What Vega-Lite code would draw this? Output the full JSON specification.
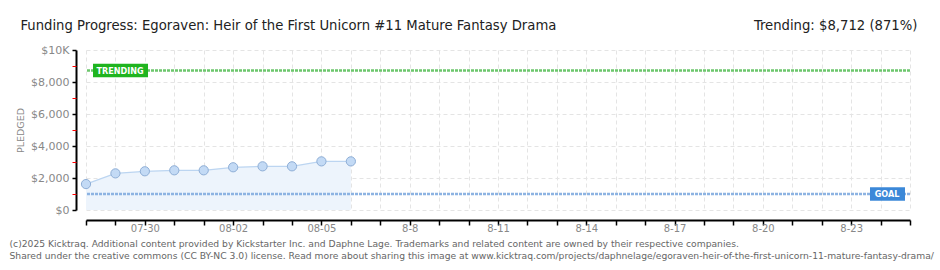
{
  "$schema": "https://vega.github.io/schema/vega-lite/v6.json",
  "width": 824,
  "height": 160,
  "autosize": {"type": "none"},
  "padding": {"left": 86, "top": 50, "right": 30, "bottom": 60},
  "background": "white",
  "config": {
    "view": {"stroke": null},
    "axis": {"labelFont": "DejaVu Sans", "titleFont": "DejaVu Sans"}
  },
  "datasets": {
    "pledges": [
      {"date": "2025-07-28", "pledged": 1620},
      {"date": "2025-07-29", "pledged": 2290},
      {"date": "2025-07-30", "pledged": 2420},
      {"date": "2025-07-31", "pledged": 2480},
      {"date": "2025-08-01", "pledged": 2480},
      {"date": "2025-08-02", "pledged": 2670},
      {"date": "2025-08-03", "pledged": 2730},
      {"date": "2025-08-04", "pledged": 2730},
      {"date": "2025-08-05", "pledged": 3040},
      {"date": "2025-08-06", "pledged": 3040}
    ],
    "marks": [
      {"kind": "GOAL", "value": 1000, "anchor": "2025-08-25"},
      {"kind": "TRENDING", "value": 8712, "anchor": "2025-07-28"}
    ]
  },
  "resolve": {"axis": {"x": "independent", "y": "independent"}},
  "layer": [
    {
      "data": {"name": "pledges"},
      "mark": {"type": "area", "color": "#edf4fc"},
      "encoding": {
        "x": {
          "field": "date", "type": "temporal",
          "scale": {"type": "utc", "domain": [{"year": 2025, "month": "jul", "date": 28, "utc": true}, {"year": 2025, "month": "aug", "date": 25, "utc": true}]},
          "axis": {
            "orient": "bottom", "offset": 10,
            "tickCount": {"interval": "day", "step": 1},
            "labelExpr": "floor(datum.value/86400000) % 3 == 1 ? (floor(datum.value/86400000) < 20306 ? utcFormat(datum.value, '%m-%d') : utcFormat(datum.value, '%-m-%-d')) : ''",
            "labelFontSize": 10, "labelColor": "#888888", "labelPadding": -2, "labelOverlap": false, "labelFlush": false,
            "domainColor": "#000000", "domainWidth": 2,
            "tickColor": "#000000", "tickWidth": 1.5, "tickSize": 5,
            "grid": true, "gridColor": "#e4e4e4", "gridDash": [4, 3], "gridWidth": 1,
            "title": ["(c)2025 Kicktraq. Additional content provided by Kickstarter Inc. and Daphne Lage. Trademarks and related content are owned by their respective companies.", "Shared under the creative commons (CC BY-NC 3.0) license. Read more about sharing this image at www.kicktraq.com/projects/daphnelage/egoraven-heir-of-the-first-unicorn-11-mature-fantasy-drama/"],
            "titleAnchor": "start", "titleAlign": "left", "titleBaseline": "top",
            "titleX": -77, "titleY": 19, "titleLineHeight": 12.5,
            "titleFontSize": 9.2, "titleFontWeight": "normal", "titleColor": "#666666"
          }
        },
        "y": {
          "field": "pledged", "type": "quantitative",
          "scale": {"domain": [0, 10000], "nice": false},
          "axis": {
            "orient": "left", "offset": 10,
            "values": [0, 2000, 4000, 6000, 8000, 10000],
            "labelExpr": "datum.value == 10000 ? '$10K' : '$' + format(datum.value, ',')",
            "labelFontSize": 11, "labelColor": "#888888", "labelPadding": 3,
            "domainColor": "#000000", "domainWidth": 2,
            "tickColor": "#000000", "tickWidth": 1.5, "tickSize": 4,
            "grid": true, "gridColor": "#e4e4e4", "gridDash": [4, 3], "gridWidth": 1,
            "title": "PLEDGED", "titleFontSize": 9.5, "titleFontWeight": "normal", "titleColor": "#888888",
            "titleX": -56, "titleY": 80, "titleAlign": "center", "titleBaseline": "middle", "titleAngle": -90
          }
        }
      }
    },
    {
      "data": {"name": "pledges"},
      "mark": {"type": "line", "color": "#bcd5f1", "strokeWidth": 1.2},
      "encoding": {
        "x": {"field": "date", "type": "temporal", "axis": null},
        "y": {"field": "pledged", "type": "quantitative", "axis": null}
      }
    },
    {
      "data": {"name": "marks"},
      "transform": [{"filter": "datum.kind == 'GOAL'"}],
      "mark": {"type": "rule", "color": "#8db3e2", "strokeWidth": 2.5, "strokeDash": [3, 1]},
      "encoding": {
        "y": {
          "field": "value", "type": "quantitative",
          "axis": {
            "orient": "left", "offset": 10,
            "values": [1000, 3000, 5000, 7000, 9000],
            "labels": false, "domain": false, "grid": false,
            "tickColor": "#ff0000", "tickWidth": 1, "tickSize": 4,
            "title": "Funding Progress: Egoraven: Heir of the First Unicorn #11 Mature Fantasy Drama",
            "titleFont": "DejaVu Sans Condensed", "titleFontSize": 14.7, "titleFontWeight": "normal", "titleColor": "#222222",
            "titleAngle": 0, "titleX": -56, "titleY": -21, "titleAlign": "left", "titleBaseline": "alphabetic"
          }
        }
      }
    },
    {
      "data": {"name": "marks"},
      "transform": [{"filter": "datum.kind == 'TRENDING'"}],
      "mark": {"type": "rule", "color": "#6cc66c", "strokeWidth": 2.5, "strokeDash": [3, 1]},
      "encoding": {
        "y": {"field": "value", "type": "quantitative", "axis": null}
      }
    },
    {
      "data": {"name": "pledges"},
      "mark": {"type": "point", "filled": true, "fill": "#c3daf5", "stroke": "#8eaed6", "strokeWidth": 1, "size": 85, "opacity": 1},
      "encoding": {
        "x": {"field": "date", "type": "temporal", "axis": null},
        "y": {"field": "pledged", "type": "quantitative", "axis": null}
      }
    },
    {
      "data": {"name": "marks"},
      "transform": [{"filter": "datum.kind == 'TRENDING'"}],
      "mark": {"type": "point", "filled": true, "color": "#1fb41f", "opacity": 1, "size": 3025, "shape": "M0.255,-0.245H2.255V0.245H0.255Z"},
      "encoding": {
        "x": {
          "field": "anchor", "type": "temporal",
          "axis": {
            "orient": "top", "labels": false, "ticks": false, "domain": false, "grid": false,
            "title": "Trending: $8,712 (871%)",
            "titleFont": "DejaVu Sans Condensed", "titleFontSize": 14.7, "titleFontWeight": "normal", "titleColor": "#222222",
            "titleX": 831, "titleY": -21, "titleAlign": "right", "titleAnchor": "end", "titleBaseline": "alphabetic"
          }
        },
        "y": {"field": "value", "type": "quantitative", "axis": null}
      }
    },
    {
      "data": {"name": "marks"},
      "transform": [{"filter": "datum.kind == 'GOAL'"}],
      "mark": {"type": "point", "filled": true, "color": "#3b88d8", "opacity": 1, "size": 1225, "shape": "M-2.286,-0.385H-0.286V0.385H-2.286Z"},
      "encoding": {
        "x": {"field": "anchor", "type": "temporal", "axis": null},
        "y": {"field": "value", "type": "quantitative", "axis": null}
      }
    },
    {
      "data": {"name": "marks"},
      "transform": [{"filter": "datum.kind == 'TRENDING'"}],
      "mark": {"type": "text", "color": "white", "font": "DejaVu Sans Condensed", "fontSize": 9, "fontWeight": "bold", "align": "center", "baseline": "middle", "dx": 34},
      "encoding": {
        "x": {"field": "anchor", "type": "temporal", "axis": null},
        "y": {"field": "value", "type": "quantitative", "axis": null},
        "text": {"field": "kind"}
      }
    },
    {
      "data": {"name": "marks"},
      "transform": [{"filter": "datum.kind == 'GOAL'"}],
      "mark": {"type": "text", "color": "white", "font": "DejaVu Sans Condensed", "fontSize": 9, "fontWeight": "bold", "align": "center", "baseline": "middle", "dx": -23},
      "encoding": {
        "x": {"field": "anchor", "type": "temporal", "axis": null},
        "y": {"field": "value", "type": "quantitative", "axis": null},
        "text": {"field": "kind"}
      }
    }
  ]
}
